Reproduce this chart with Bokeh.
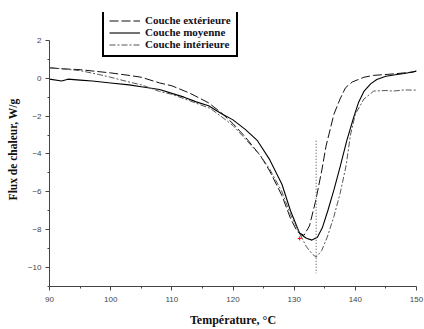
from bokeh.plotting import figure
from bokeh.models import Range1d, Legend, LegendItem, FixedTicker
from bokeh.embed import file_html
from bokeh.resources import INLINE

# ---- data ----
T_moy = [90, 92, 93, 95, 97, 100, 103, 105, 108, 110, 112, 114, 116, 118, 120, 122, 124,
         126, 128, 129.4, 130.9, 132, 132.9, 133.8, 134.6, 135.5, 136.5, 137.5, 138.6,
         139.7, 140.5, 141.4, 142.5, 143.5, 145, 146.8, 148, 150]
F_moy = [-0.05, -0.15, -0.05, -0.1, -0.15, -0.25, -0.35, -0.45, -0.6, -0.8, -1.0, -1.25,
         -1.45, -1.85, -2.2, -2.7, -3.3, -4.3, -5.6, -7.0, -8.2, -8.45, -8.55, -8.4, -7.9,
         -7.0, -5.9, -4.7, -3.3, -2.1, -1.3, -0.7, -0.3, -0.07, 0.1, 0.2, 0.25, 0.37]

T_ext = [90, 92, 95, 100, 103, 105, 108, 110, 113, 116, 118, 120, 122, 124.5, 126, 128,
         129.4, 130.5, 131.6, 132.5, 133.5, 134.5, 135.2, 136.5, 137.5, 138.4, 139.5,
         141.4, 143, 145.2, 147, 149.5, 150]
F_ext = [0.55, 0.5, 0.45, 0.28, 0.15, 0.05, -0.25, -0.4, -0.8, -1.3, -1.8, -2.4, -3.1,
         -4.1, -4.9, -6.2, -7.4, -8.1, -8.3, -7.8, -6.5, -4.9, -3.6, -1.9, -1.1, -0.5,
         -0.2, 0.05, 0.15, 0.2, 0.25, 0.33, 0.4]

T_int = [90, 92, 95, 98, 100, 103, 105, 108, 110, 113, 116.3, 118, 120, 122, 124.5, 126,
         128, 129.4, 130.9, 132, 133, 133.6, 134.5, 135.4, 136.5, 137.5, 138.5, 139.2,
         140, 141.4, 143, 145, 146.2, 148, 150]
F_int = [0.55, 0.5, 0.4, 0.2, 0.05, -0.2, -0.35, -0.7, -0.85, -1.2, -1.6, -2.0, -2.5,
         -3.2, -4.1, -4.8, -6.0, -7.2, -8.2, -8.9, -9.3, -9.45, -9.1, -8.4, -7.3, -6.1,
         -4.6, -3.0, -1.9, -1.1, -0.68, -0.65, -0.68, -0.62, -0.63]

peak_T = [133.6, 133.6]
peak_F = [-3.3, -10.3]
mark_T = [130.9]
mark_F = [-8.46]

labels = ["Couche extérieure", "Couche moyenne", "Couche intérieure"]
x_ticks = [90, 100, 110, 120, 130, 140, 150]
y_ticks = [-10, -8, -6, -4, -2, 0, 2]

p = figure(width=424, height=329, output_backend="svg", toolbar_location=None,
           x_range=Range1d(90, 150), y_range=Range1d(-11, 3.47),
           min_border_left=49, min_border_right=8, min_border_top=12, min_border_bottom=40)
p.outline_line_color = None
p.grid.visible = False
p.background_fill_color = "white"

r_ext = p.line(T_ext, F_ext, line_color="#111111", line_width=1, line_dash="9 3")
r_moy = p.line(T_moy, F_moy, line_color="black", line_width=1.1)
r_int = p.line(T_int, F_int, line_color="#555555", line_width=1, line_dash="6 2 2 2")
p.line(peak_T, peak_F, line_color="#666666", line_width=1.2, line_dash="1 2")
p.scatter(mark_T, mark_F, marker="cross", size=4, line_color="red", line_width=1)

legend = Legend(items=[LegendItem(label=labels[0], renderers=[r_ext]),
                       LegendItem(label=labels[1], renderers=[r_moy]),
                       LegendItem(label=labels[2], renderers=[r_int])],
                location=(53, 229))
legend.label_text_font = "Liberation Serif"
legend.label_text_font_style = "bold"
legend.label_text_font_size = "11px"
legend.label_text_color = "#111122"
legend.border_line_color = "black"
legend.border_line_width = 2
legend.border_line_alpha = 1
legend.background_fill_color = "white"
legend.background_fill_alpha = 1
legend.padding = 5
legend.spacing = 0
legend.margin = 0
legend.label_height = 11
legend.glyph_height = 11
legend.glyph_width = 31
legend.label_standoff = 5
p.add_layout(legend, "center")

for ax in (p.xaxis[0], p.yaxis[0]):
    ax.axis_line_color = "#444444"
    ax.major_tick_line_color = "#444444"
    ax.minor_tick_line_color = "#444444"
    ax.major_tick_out = 4
    ax.major_tick_in = 0
    ax.minor_tick_out = 2
    ax.minor_tick_in = 0
    ax.major_label_text_font = "Liberation Sans"
    ax.major_label_text_font_size = "8px"
    ax.major_label_text_color = "#444444"
    ax.axis_label_text_font = "Liberation Serif"
    ax.axis_label_text_font_style = "bold"
    ax.axis_label_text_color = "#111111"

p.yaxis.bounds = (-11, 2)
p.xaxis.axis_label_text_font_size = "12px"
p.yaxis.axis_label_text_font_size = "11.5px"
p.xaxis.ticker = FixedTicker(ticks=x_ticks, minor_ticks=[95, 105, 115, 125, 135, 145])
p.yaxis.ticker = FixedTicker(ticks=y_ticks, minor_ticks=[-11, -9, -7, -5, -3, -1, 1])
p.xaxis.axis_label = "Température, °C"
p.yaxis.axis_label = "Flux de chaleur, W/g"
p.xaxis.major_label_standoff = 6
p.xaxis.axis_label_standoff = 8
p.yaxis.major_label_standoff = 4
p.yaxis.axis_label_standoff = 6

open("out.html", "w").write(file_html(p, INLINE))
